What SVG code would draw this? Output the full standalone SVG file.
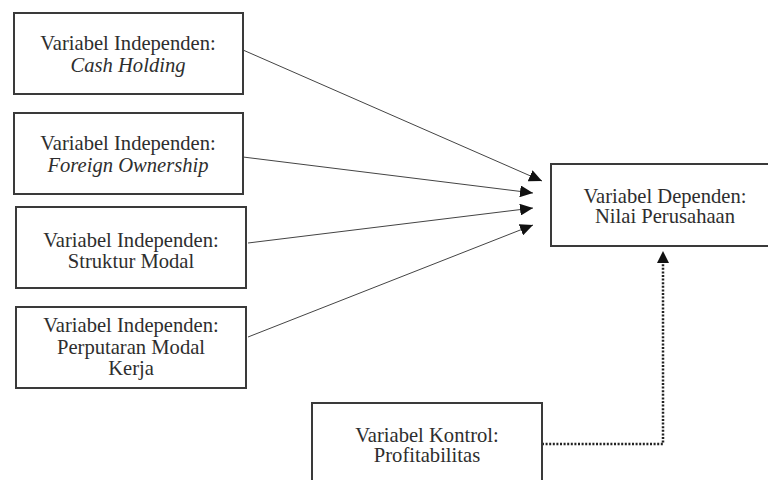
<svg xmlns="http://www.w3.org/2000/svg" width="768" height="480" viewBox="0 0 768 480">
<style>
.box{fill:#fff;stroke:#3a3a3a;stroke-width:2}
.t{font-family:"Liberation Serif","Times New Roman","DejaVu Serif",serif;font-size:20.6px;fill:#2e2e2e;text-anchor:middle}
.i{font-style:italic}
.c{stroke:#444;stroke-width:1;fill:none}
.d{stroke:#222;stroke-width:2.5;fill:none;stroke-dasharray:2 1.6}
</style>
<defs>
<marker id="ah" markerUnits="userSpaceOnUse" markerWidth="14" markerHeight="12" refX="13" refY="6" orient="auto">
<path d="M0,0 L13,6 L0,12 Z" fill="#111"/>
</marker>
</defs>
<rect width="768" height="480" fill="#fff"/>
<g id="connectors">
<line class="c" x1="243" y1="50" x2="542" y2="181" marker-end="url(#ah)"/>
<line class="c" x1="243" y1="157" x2="533" y2="193" marker-end="url(#ah)"/>
<line class="c" x1="248" y1="243" x2="533" y2="208" marker-end="url(#ah)"/>
<line class="c" x1="248" y1="337" x2="533" y2="225" marker-end="url(#ah)"/>
<polyline class="d" points="542,444 663,444 663,262"/>
<path d="M657,263 L663,251 L669,263 Z" fill="#111"/>
</g>
<g id="n1">
<rect class="box" x="14" y="13" width="229" height="81"/>
<text class="t" x="128" y="50">Variabel Independen:</text>
<text class="t i" x="128" y="72">Cash Holding</text>
</g>
<g id="n2">
<rect class="box" x="14" y="113" width="229" height="81"/>
<text class="t" x="128" y="150">Variabel Independen:</text>
<text class="t i" x="128" y="172">Foreign Ownership</text>
</g>
<g id="n3">
<rect class="box" x="16" y="207" width="230" height="81"/>
<text class="t" x="131" y="247">Variabel Independen:</text>
<text class="t" x="131" y="268">Struktur Modal</text>
</g>
<g id="n4">
<rect class="box" x="16" y="307" width="230" height="81"/>
<text class="t" x="131" y="332">Variabel Independen:</text>
<text class="t" x="131" y="354">Perputaran Modal</text>
<text class="t" x="131" y="375">Kerja</text>
</g>
<g id="n5">
<rect class="box" x="551" y="164" width="230" height="82"/>
<text class="t" x="665" y="203">Variabel Dependen:</text>
<text class="t" x="665" y="223">Nilai Perusahaan</text>
</g>
<g id="n6">
<rect class="box" x="312" y="403" width="230" height="90"/>
<text class="t" x="427" y="442">Variabel Kontrol:</text>
<text class="t" x="427" y="462">Profitabilitas</text>
</g>
</svg>
